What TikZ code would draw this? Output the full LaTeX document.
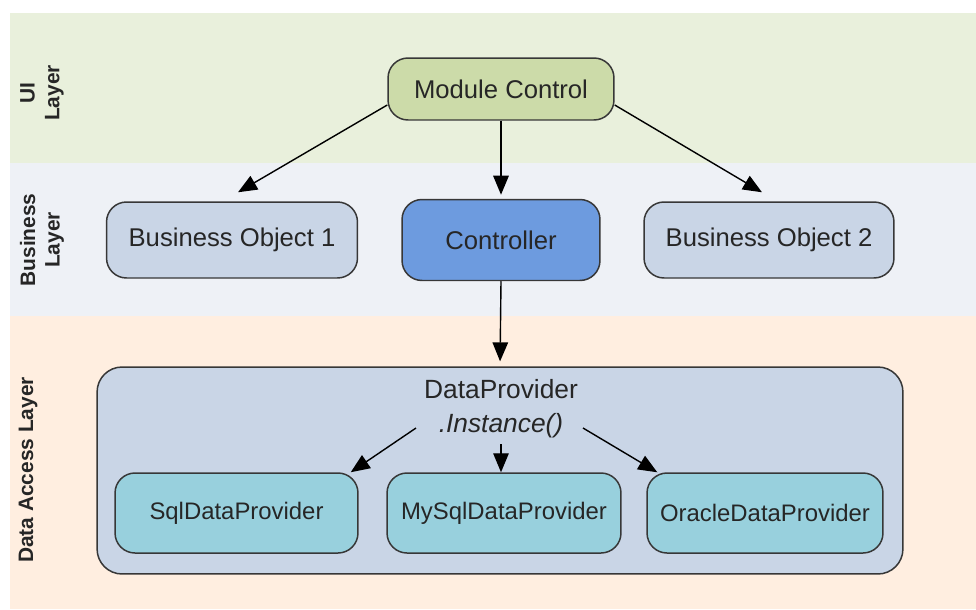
\documentclass[tikz,border=0pt]{standalone}
\usepackage{fontspec}
\setmainfont{Liberation Sans}
\usepackage{xcolor}
\usetikzlibrary{arrows.meta, calc}

\definecolor{uiband}{RGB}{233,240,220}
\definecolor{bizband}{RGB}{238,241,246}
\definecolor{dalband}{RGB}{255,238,224}
\definecolor{mcgreen}{RGB}{204,219,169}
\definecolor{boblue}{RGB}{201,213,230}
\definecolor{ctrlblue}{RGB}{109,155,223}
\definecolor{provcyan}{RGB}{152,208,221}
\definecolor{boxline}{RGB}{55,55,55}
\definecolor{txt}{RGB}{38,38,38}

\begin{document}
\begin{tikzpicture}[x=0.02cm,y=-0.02cm,
  box/.style={draw=boxline, line width=0.85pt, rounded corners=0.4cm, text=txt,
    inner sep=0pt, font=\fontsize{14.6}{17}\selectfont},
  prov/.style={box, fill=provcyan, minimum height=1.6cm, font=\fontsize{13.6}{16}\selectfont},
  arr/.style={-{Triangle[length=0.38cm,width=0.31cm]}, line width=0.8pt},
  side/.style={rotate=90, align=center, text=txt, font=\fontsize{11.9}{14}\selectfont\bfseries}
]
\useasboundingbox (0,0) rectangle (976,609);

% layer bands
\fill[uiband] (10,13) rectangle (976,163);
\fill[bizband] (10,163) rectangle (976,316);
\fill[dalband] (10,316) rectangle (976,609);

\node[side] (uil) at (42,93) {UI\\Layer};
\node[side] (bizl) at (42,240) {Business\\Layer};
\node[side] (dall) at (28,470) {Data Access Layer};

% UI + business
\node[box, fill=mcgreen, minimum width=4.52cm, minimum height=1.24cm] (mc) at (501,89) {Module Control};
\node[box, fill=boblue, minimum width=5.02cm, minimum height=1.52cm] (bo1) at (232,240) {Business Object 1};
\node[box, fill=ctrlblue, minimum width=3.96cm, minimum height=1.62cm] (ctrl) at (501,240) {Controller};
\node[box, fill=boblue, minimum width=5.0cm, minimum height=1.52cm] (bo2) at (769,240) {Business Object 2};

% data access
\node[box, fill=boblue, minimum width=16.12cm, minimum height=4.14cm, rounded corners=0.5cm] (dp) at (500,470.5) {};
\node[text=txt, font=\fontsize{15}{17}\selectfont, anchor=base] (dpname) at (501,398) {DataProvider};
\node[text=txt, font=\fontsize{15}{17}\selectfont\itshape, anchor=base] (inst) at (501,432) {.Instance()};

\node[prov, minimum width=4.86cm] (sql) at (236.5,513) {SqlDataProvider};
\node[prov, minimum width=4.68cm] (mysql) at (504,513) {MySqlDataProvider};
\node[prov, minimum width=4.72cm] (ora) at (765,513) {OracleDataProvider};

\coordinate (il) at (416,428);
\coordinate (im) at (501,444);
\coordinate (ir) at (583,428);

% arrows
\draw[arr] ($(mc.west)+(0,16)$) -- ($(bo1.north)+(6,-9)$);
\draw[arr, shorten >=2.3pt] (mc.south) -- (ctrl.north);
\draw[arr] ($(mc.east)+(0,16)$) -- ($(bo2.north)+(-7,-9)$);
\draw[arr, shorten >=2.8pt] (ctrl.south) -- (dp.north);

\draw[arr] (il) -- ($(sql.north east)+(-8,0)$);
\draw[arr] (im) -- (im |- mysql.north);
\draw[arr] (ir) -- ($(ora.north west)+(11,0)$);

\end{tikzpicture}
\end{document}
